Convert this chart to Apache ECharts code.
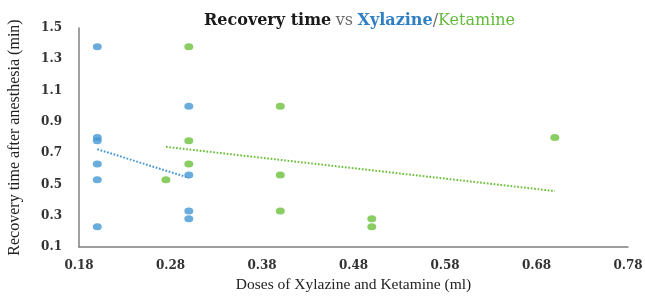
<!DOCTYPE html>
<html>
<head>
<meta charset="utf-8">
<script src="https://cdn.jsdelivr.net/npm/echarts@6/dist/echarts.min.js"></script>
<style>html,body{margin:0;padding:0;background:#fff}#c{width:645px;height:296px}</style>
</head>
<body>
<div id="c"></div>
<script>
// Data
const xylazineDose = [0.2, 0.2, 0.2, 0.2, 0.2, 0.2, 0.3, 0.3, 0.3, 0.3];
const xylazineTime = [1.38, 0.80, 0.78, 0.63, 0.53, 0.23, 1.00, 0.56, 0.33, 0.28];
const ketamineDose = [0.275, 0.3, 0.3, 0.3, 0.4, 0.4, 0.4, 0.5, 0.5, 0.7];
const ketamineTime = [0.53, 1.38, 0.78, 0.63, 1.00, 0.56, 0.33, 0.28, 0.23, 0.80];
const xTicks = [0.18, 0.28, 0.38, 0.48, 0.58, 0.68, 0.78];
const yTicks = [0.1, 0.3, 0.5, 0.7, 0.9, 1.1, 1.3, 1.5];

function pairs(xs, ys) { return xs.map((x, i) => [x, ys[i]]); }
function trend(xs, ys) {
  const n = xs.length;
  const mx = xs.reduce((a, b) => a + b, 0) / n;
  const my = ys.reduce((a, b) => a + b, 0) / n;
  let sxy = 0, sxx = 0;
  for (let i = 0; i < n; i++) { sxy += (xs[i] - mx) * (ys[i] - my); sxx += (xs[i] - mx) ** 2; }
  const b = sxy / sxx, a = my - b * mx;
  const x0 = Math.min(...xs), x1 = Math.max(...xs);
  return [[x0, a + b * x0], [x1, a + b * x1]];
}

const BLUE = '#4597d3';
const GREEN = '#6cc13c';
const SERIF = '"Liberation Serif", "Times New Roman", serif';
const WIDE = '"DejaVu Serif", serif';

const chart = echarts.init(document.getElementById('c'));
chart.setOption({
  animation: false,
  textStyle: { fontFamily: SERIF },
  title: {
    left: 199, top: 7,
    text: '{a|Recovery time} {b|vs} {c|Xylazine}{b|/}{d|Ketamine}',
    textStyle: {
      rich: {
        a: { fontFamily: WIDE, fontSize: 16, fontWeight: 'bold', color: '#1a1a1a' },
        b: { fontFamily: WIDE, fontSize: 16, fontWeight: 'normal', color: '#6a6a6a' },
        c: { fontFamily: WIDE, fontSize: 16, fontWeight: 'bold', color: '#2f7fc4' },
        d: { fontFamily: WIDE, fontSize: 16, fontWeight: 'normal', color: '#63bb3e' }
      }
    }
  },
  grid: { left: 79, right: 17, top: 28, bottom: 49, containLabel: false, outerBoundsMode: 'none' },
  xAxis: {
    type: 'value', min: 0.18, max: 0.78,
    name: 'Doses of Xylazine and Ketamine (ml)', nameLocation: 'middle', nameGap: 28,
    nameTextStyle: { fontFamily: SERIF, fontSize: 15.5, color: '#222' },
    axisLine: { show: true, lineStyle: { color: '#7f7f7f', width: 1.5 } },
    axisTick: { show: false },
    splitLine: { show: false },
    axisLabel: { customValues: xTicks, formatter: v => v.toFixed(2), fontFamily: WIDE, fontSize: 12, fontWeight: 'bold', color: '#333', margin: 13 }
  },
  yAxis: {
    type: 'value', min: 0.1, max: 1.5,
    name: 'Recovery time after anesthesia (min)', nameLocation: 'middle', nameGap: 56, nameRotate: 90,
    nameTextStyle: { fontFamily: SERIF, fontSize: 16, color: '#222' },
    axisLine: { show: true, lineStyle: { color: '#7f7f7f', width: 1.5 } },
    axisTick: { show: false },
    splitLine: { show: false },
    axisLabel: { customValues: yTicks, formatter: v => v.toFixed(1), fontFamily: WIDE, fontSize: 12, fontWeight: 'bold', color: '#333', margin: 17 }
  },
  series: [
    { type: 'scatter', name: 'Xylazine', data: pairs(xylazineDose, xylazineTime), symbol: 'circle', symbolSize: [9, 7], itemStyle: { color: BLUE } },
    { type: 'scatter', name: 'Ketamine', data: pairs(ketamineDose, ketamineTime), symbol: 'circle', symbolSize: [9, 7], itemStyle: { color: GREEN } },
    { type: 'line', data: trend(xylazineDose, xylazineTime), symbol: 'none', lineStyle: { color: BLUE, width: 2, type: [1.7, 1.7] }, z: 1 },
    { type: 'line', data: trend(ketamineDose, ketamineTime), symbol: 'none', lineStyle: { color: GREEN, width: 2, type: [1.7, 1.7] }, z: 1 }
  ]
});
</script>
</body>
</html>
